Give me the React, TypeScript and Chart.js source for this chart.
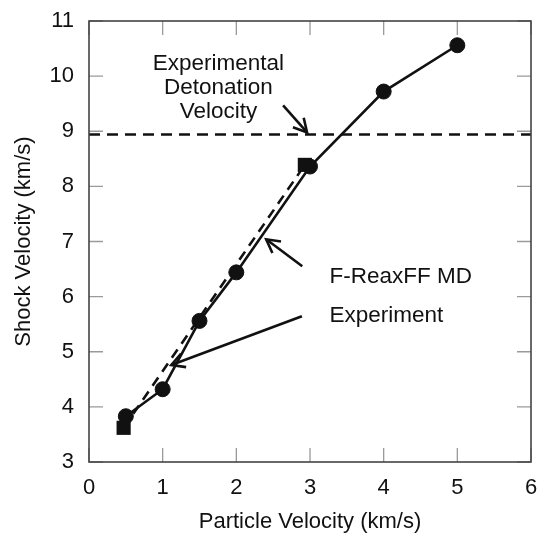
import React, { useEffect, useRef } from "react";
import { Chart, registerables } from "chart.js";

Chart.register(...registerables);

// ---- data ----
const mdX = [0.5, 1, 1.5, 2, 3, 4, 5];
const mdY = [3.83, 4.32, 5.56, 6.44, 8.36, 9.72, 10.56];
const expX = [0.47, 2.93];
const expY = [3.62, 8.39];
const detonationVelocity = 8.94;
const xTickValues = [0, 1, 2, 3, 4, 5, 6];
const yTickValues = [3, 4, 5, 6, 7, 8, 9, 10, 11];

const FONT = '"Liberation Sans", Arial, Helvetica, sans-serif';
const INK = "#111";

function drawArrow(ctx: CanvasRenderingContext2D, x1: number, y1: number, x2: number, y2: number) {
  const ang = Math.atan2(y2 - y1, x2 - x1);
  const L = 15;
  const spread = 0.5;
  ctx.beginPath();
  ctx.moveTo(x1, y1);
  ctx.lineTo(x2, y2);
  ctx.stroke();
  ctx.beginPath();
  ctx.moveTo(x2 - L * Math.cos(ang - spread), y2 - L * Math.sin(ang - spread));
  ctx.lineTo(x2, y2);
  ctx.lineTo(x2 - L * Math.cos(ang + spread), y2 - L * Math.sin(ang + spread));
  ctx.stroke();
}

const framePlugin = {
  id: "frameAndNotes",
  beforeDatasetsDraw(chart: any) {
    const { ctx, chartArea: a, scales } = chart;
    const x = scales.x, y = scales.y;
    const TL = 14;
    ctx.save();
    ctx.strokeStyle = "#9a9a9a";
    ctx.lineWidth = 1.3;
    ctx.beginPath();
    for (const v of xTickValues) {
      const px = x.getPixelForValue(v);
      ctx.moveTo(px, a.bottom);
      ctx.lineTo(px, a.bottom - TL);
      ctx.moveTo(px, a.top);
      ctx.lineTo(px, a.top + TL);
    }
    for (const v of yTickValues) {
      const py = y.getPixelForValue(v);
      ctx.moveTo(a.left, py);
      ctx.lineTo(a.left + TL, py);
      ctx.moveTo(a.right, py);
      ctx.lineTo(a.right - TL, py);
    }
    ctx.stroke();
    ctx.restore();
  },
  afterDatasetsDraw(chart: any) {
    const { ctx, chartArea: a, scales } = chart;
    const x = scales.x, y = scales.y;
    ctx.save();
    // frame
    ctx.strokeStyle = "#444";
    ctx.lineWidth = 1.6;
    ctx.strokeRect(a.left, a.top, a.right - a.left, a.bottom - a.top);

    // annotations
    ctx.fillStyle = INK;
    ctx.strokeStyle = INK;
    ctx.lineWidth = 2.6;
    ctx.lineCap = "butt";
    ctx.font = `22.5px ${FONT}`;
    ctx.textBaseline = "middle";

    ctx.textAlign = "center";
    const cx = x.getPixelForValue(1.757);
    const cy = y.getPixelForValue(10.215);
    ctx.fillText("Experimental", cx, cy);
    ctx.fillText("Detonation", cx, cy + 24);
    ctx.fillText("Velocity", cx, cy + 48);
    drawArrow(ctx, x.getPixelForValue(2.635), y.getPixelForValue(9.47), x.getPixelForValue(2.96), y.getPixelForValue(8.98));

    ctx.textAlign = "left";
    ctx.fillText("F-ReaxFF MD", x.getPixelForValue(3.265), y.getPixelForValue(6.36));
    ctx.fillText("Experiment", x.getPixelForValue(3.265), y.getPixelForValue(5.65));
    drawArrow(ctx, x.getPixelForValue(2.895), y.getPixelForValue(6.55), x.getPixelForValue(2.405), y.getPixelForValue(7.04));
    drawArrow(ctx, x.getPixelForValue(2.89), y.getPixelForValue(5.645), x.getPixelForValue(1.117), y.getPixelForValue(4.76));
    ctx.restore();
  },
};

export default function App() {
  const ref = useRef<HTMLCanvasElement | null>(null);
  useEffect(() => {
    if (!ref.current) return;
    const chart = new Chart(ref.current, {
      type: "scatter",
      data: {
        datasets: [
          {
            label: "Detonation velocity",
            data: [
              { x: xTickValues[0], y: detonationVelocity },
              { x: xTickValues[xTickValues.length - 1], y: detonationVelocity },
            ],
            showLine: true,
            borderColor: INK,
            borderWidth: 2.6,
            borderDash: [11, 7],
            pointRadius: 0,
          },
          {
            label: "Experiment",
            data: expX.map((v, i) => ({ x: v, y: expY[i] })),
            showLine: true,
            borderColor: INK,
            backgroundColor: INK,
            borderWidth: 2.6,
            borderDash: [10, 7],
            pointStyle: "rect",
            pointRadius: 10,
            pointBorderWidth: 0,
            pointBackgroundColor: INK,
          },
          {
            label: "F-ReaxFF MD",
            data: mdX.map((v, i) => ({ x: v, y: mdY[i] })),
            showLine: true,
            borderColor: INK,
            backgroundColor: INK,
            borderWidth: 2.6,
            pointStyle: "circle",
            pointRadius: 7.5,
            pointBorderWidth: 1,
            pointBackgroundColor: INK,
            pointBorderColor: INK,
          },
        ],
      },
      options: {
        animation: false,
        responsive: false,
        devicePixelRatio: 1,
        layout: { padding: { top: 21, right: 8, left: 0, bottom: 0 } },
        plugins: { legend: { display: false }, tooltip: { enabled: false } },
        scales: {
          x: {
            type: "linear",
            min: 0,
            max: 6,
            grid: { display: false, drawTicks: false },
            border: { display: false },
            ticks: {
              stepSize: 1,
              padding: 13,
              color: INK,
              font: { family: FONT, size: 22 },
              maxRotation: 0,
            },
            title: {
              display: true,
              text: "Particle Velocity (km/s)",
              color: INK,
              font: { family: FONT, size: 22 },
              padding: { top: 0, bottom: 0 },
            },
            afterFit(scale: any) {
              scale.height = 73;
              scale.paddingLeft = 0;
              scale.paddingRight = 0;
            },
          },
          y: {
            type: "linear",
            min: 3,
            max: 11,
            grid: { display: false, drawTicks: false },
            border: { display: false },
            ticks: {
              stepSize: 1,
              padding: 15,
              color: INK,
              font: { family: FONT, size: 22 },
            },
            title: {
              display: true,
              text: "Shock Velocity (km/s)",
              color: INK,
              font: { family: FONT, size: 22 },
              padding: { top: 11, bottom: 0 },
            },
            afterFit(scale: any) {
              scale.width = 89;
              scale.paddingTop = 0;
              scale.paddingBottom = 0;
            },
          },
        },
      },
      plugins: [framePlugin],
    });
    return () => chart.destroy();
  }, []);
  return (
    <div style={{ position: "fixed", left: 0, top: 0, width: 541, height: 535, background: "#fff" }}>
      <canvas ref={ref} width={541} height={535} style={{ display: "block" }} />
    </div>
  );
}
